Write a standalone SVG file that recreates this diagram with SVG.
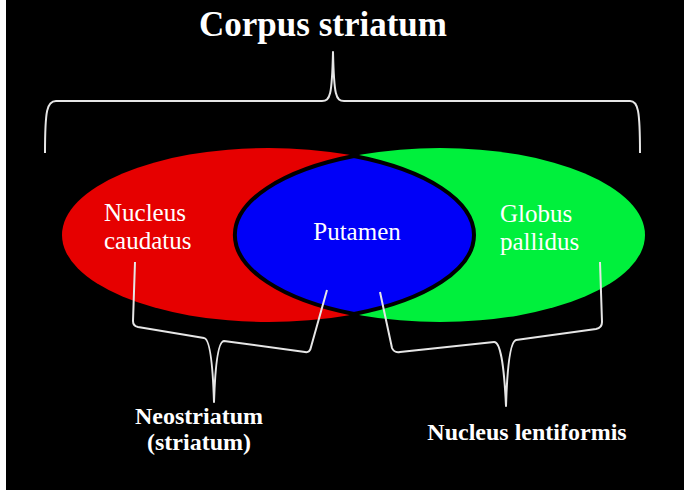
<svg xmlns="http://www.w3.org/2000/svg" width="684" height="490" viewBox="0 0 684 490">
<style>
.lbl{font-family:"Liberation Serif","Times New Roman",serif;font-size:25px;fill:#ffffff}
.bold{font-family:"Liberation Serif","Times New Roman",serif;font-weight:bold;fill:#ffffff}
.brace{fill:none;stroke:#e6e6e6;stroke-width:2;stroke-linejoin:round}
</style>
<rect x="0" y="0" width="684" height="490" fill="#000000"/>
<rect x="0" y="0" width="6" height="490" fill="#ffffff"/>
<g id="title">
<text class="bold" x="323" y="36" font-size="35" text-anchor="middle">Corpus striatum</text>
</g>
<g id="nucleus-caudatus">
<ellipse cx="268.5" cy="235" rx="206.5" ry="87" fill="#e60000"/>
</g>
<g id="globus-pallidus">
<ellipse cx="440" cy="235" rx="205" ry="87" fill="#00f03c"/>
</g>
<g id="putamen">
<path d="M354,156 A206.5,87 0 0 1 354,314 A205,87 0 0 1 354,156 Z" fill="#0000f8" stroke="#000000" stroke-width="4"/>
<text class="lbl" x="357" y="240" text-anchor="middle">Putamen</text>
</g>
<g id="caudatus-label">
<text class="lbl" x="104" y="221">Nucleus</text>
<text class="lbl" x="104" y="249">caudatus</text>
</g>
<g id="pallidus-label">
<text class="lbl" x="500" y="222">Globus</text>
<text class="lbl" x="500" y="250">pallidus</text>
</g>
<g id="connectors">
<path class="brace" d="M45,153 C45,110 47,101 56,101 L322,101 C330,101 332,96 333,52 C334,96 336,101 344,101 L630,101 C638,101 640,110 640,153"/>
<path class="brace" d="M135,262 L133,321 Q133,326 138,327 L204,338 Q212,339 214,402 Q216,341 224,341 L305,352 Q310,353 311,347 L327,290"/>
<path class="brace" d="M380,292 L392,348 Q394,353 400,352 L494,342 Q503,341 506,406 Q508,342 516,340 L596,329 Q602,328 602,322 L600,262"/>
</g>
<g id="neostriatum">
<text class="bold" x="199" y="424" font-size="24" text-anchor="middle">Neostriatum</text>
<text class="bold" x="199" y="450" font-size="24" text-anchor="middle">(striatum)</text>
</g>
<g id="lentiformis">
<text class="bold" x="527" y="440" font-size="24" text-anchor="middle">Nucleus lentiformis</text>
</g>
</svg>
